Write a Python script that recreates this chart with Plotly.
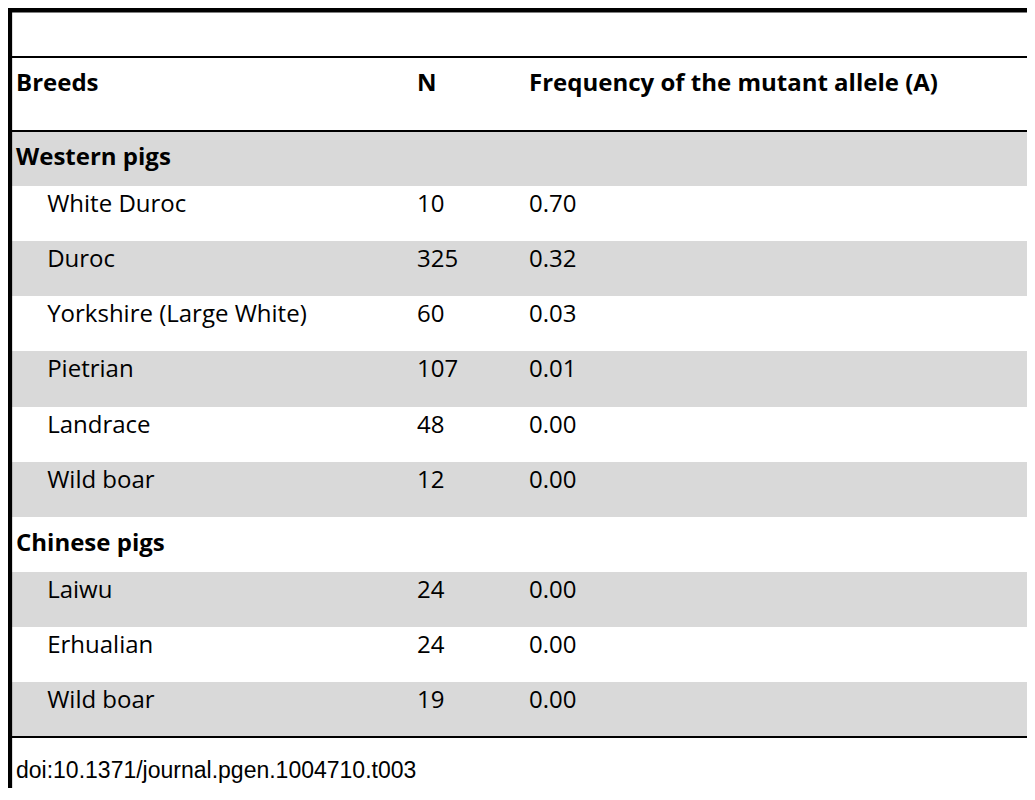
import plotly.graph_objects as go

# table content
header = ["<b>Breeds</b>", "<b>N</b>", "<b>Frequency of the mutant allele (A)</b>"]
breeds = ["<b>Western pigs</b>", "White Duroc", "Duroc", "Yorkshire (Large White)", "Pietrian",
          "Landrace", "Wild boar", "<b>Chinese pigs</b>", "Laiwu", "Erhualian", "Wild boar"]
n_values = ["", "10", "325", "60", "107", "48", "12", "", "24", "24", "19"]
freqs = ["", "0.70", "0.32", "0.03", "0.01", "0.00", "0.00", "", "0.00", "0.00", "0.00"]
is_group = [True, False, False, False, False, False, False, True, False, False, False]
shaded = [True, False, True, False, True, False, True, False, True, False, True]

indent = "\u00a0" * 5
breed_text = [b if g else indent + b for b, g in zip(breeds, is_group)]
fills = ["#d9d9d9" if s else "white" for s in shaded]

fig = go.Figure(go.Table(
    columnwidth=[401, 112, 522],
    header=dict(values=header, height=74, fill_color="white", align="left",
                line=dict(width=0, color="white"),
                font=dict(family="Open Sans", size=24, color="black")),
    cells=dict(values=[breed_text, n_values, freqs], height=55.1,
               fill_color=[fills, fills, fills], align="left",
               line=dict(width=0, color="white"),
               font=dict(family="Open Sans", size=24, color="black")),
))

# rules
fig.add_shape(type="line", xref="paper", yref="paper", x0=0, x1=1.01, y0=1.069, y1=1.069,
              line=dict(color="black", width=5))
fig.add_shape(type="rect", xref="paper", yref="paper", x0=0, x1=0.004, y0=-0.075, y1=1.075,
              line=dict(width=0), fillcolor="black")
for yy in [1.0, 0.891, 0.0]:
    fig.add_shape(type="line", xref="paper", yref="paper", x0=0, x1=1.01, y0=yy, y1=yy,
                  line=dict(color="black", width=2))

fig.add_annotation(text="doi:10.1371/journal.pgen.1004710.t003", xref="paper", yref="paper",
                   x=0.006, y=-0.0485, xanchor="left", yanchor="middle", showarrow=False,
                   font=dict(family="Liberation Sans", size=23, color="black"))

fig.update_layout(width=1035, height=800, paper_bgcolor="white",
                  margin=dict(l=0, r=0, t=49, b=71))
fig.write_html("out.html")
